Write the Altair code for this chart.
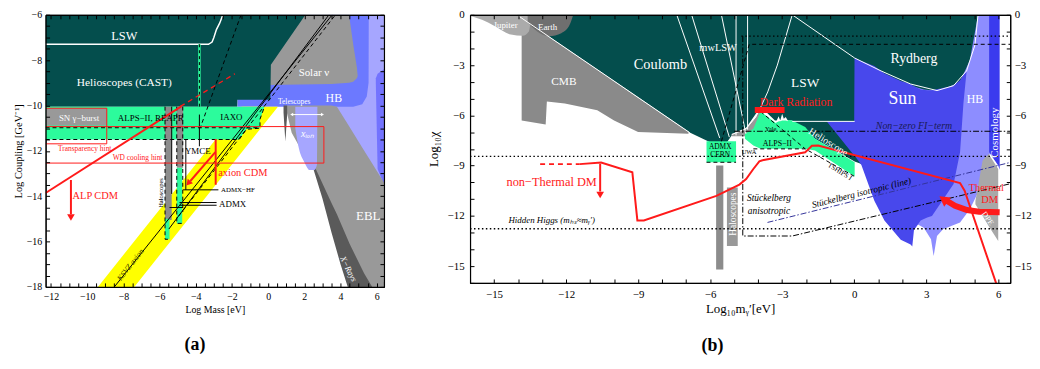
import altair as alt
import pandas as pd

FONT = "Liberation Serif"

TEAL = "#044E4D"; GREEN = "#2CFB9C"; GRAY = "#999999"; DGRAY = "#5A5A5A"
YELLOW = "#FFFF00"; RED = "#FF1A1A"; LAV = "#A6A6FF"; HBA = "#6C79FF"; STRIP = "#7373FF"
SUN = "#4848EC"; HBB = "#8D8DFF"; COSMO = "#3B3BEE"; CMBC = "#8A8A8A"; JUP = "#ABABAB"
EARTH = "#6F6F6F"; NAVY = "#1B1B55"; OLIVE = "#3A3A00"; HALO = "#8C8C8C"

# ======================= panel (a) : axion / ALP =======================
A_XDOM = [-12.3, 6.4]
A_YDOM = [-18.0, -6.0]

A_LAV_X = [3.5, 5.5, 6.4]; A_LAV_TOP = [-6.0, -6.0, -6.0]; A_LAV_BOT = [-13.0, -13.0, -13.4]
A_STRIP_X = [5.95, 6.05, 6.4]; A_STRIP_TOP = [-8.8, -8.6, -8.4]; A_STRIP_BOT = [-9.0, -12.8, -13.5]
A_HB_X = [-1.7, 0.1, 0.12, 4.7, 5.2, 5.45, 5.55, 5.56]
A_HB_TOP = [-9.7, -9.7, -6.0, -6.0, -6.0, -6.0, -6.0, -6.0]
A_HB_BOT = [-10.05, -10.05, -10.05, -10.05, -9.95, -9.6, -9.0, -6.0]
A_SOL_X = [0.0, 3.5, 4.47, 4.7, 4.9, 4.95]
A_SOL_TOP = [-6.0, -6.0, -6.0, -7.3, -8.3, -8.7]
A_SOL_BOT = [-9.1, -9.05, -9.0, -8.95, -8.8, -8.7]
A_XR_X = [2.5, 3.0, 3.5, 4.0, 4.4, 5.0, 5.75, 6.4]
A_XR_TOP = [-12.2, -12.8, -13.8, -14.8, -15.4, -16.3, -17.6, -17.8]
A_XR_BOT = [-12.8, -14.1, -15.6, -17.0, -18.0, -18.0, -18.0, -18.0]
A_EBL_X = [1.0, 1.3, 2.0, 2.6, 3.5, 3.8, 4.5, 5.3, 5.75, 6.4]
A_EBL_TOP = [-10.0, -10.0, -10.0, -10.0, -10.0, -10.05, -10.95, -11.98, -12.56, -13.4]
A_EBL_BOT = [-10.2, -11.2, -12.2, -12.75, -14.3, -14.8, -16.1, -17.4, -18.0, -18.0]
A_TEL_X = [0.85, 0.95, 1.05]; A_TEL_TOP = [-10.0, -10.0, -10.0]; A_TEL_BOT = [-10.3, -11.6, -10.4]
A_TEAL_X = [-12.3, -1.71, -1.7, 0.1, 0.12, 0.15, 2.06]
A_TEAL_TOP = [-6.0, -6.0, -6.0, -6.0, -6.0, -6.0, -6.0]
A_TEAL_BOT = [-10.05, -10.05, -9.75, -9.75, -9.75, -8.2, -6.0]
A_YEL_X = [-9.41, -7.4, -1.46, 0.53]
A_YEL_TOP = [-18.0, -15.99, -10.05, -10.05]
A_YEL_BOT = [-18.0, -18.0, -12.06, -10.07]
A_GRN_X = [-12.3, -1.6, -1.2, -0.46, -0.45, -0.2]
A_GRN_TOP = [-10.05, -10.05, -10.05, -10.05, -10.05, -10.05]
A_GRN_BOT = [-11.5, -11.5, -11.05, -11.0, -10.6, -10.05]
A_SN_X = [-12.3, -8.9]; A_SN_TOP = [-10.12, -10.12]; A_SN_BOT = [-10.88, -10.88]
A_H1_X = [-5.7, -5.33]; A_H1_TOP = [-10.05, -10.05]; A_H1_BOT = [-15.05, -15.05]
A_H1G_X = [-5.7, -5.45]; A_H1G_TOP = [-15.0, -15.0]; A_H1G_BOT = [-15.9, -15.9]
A_H2_X = [-5.05, -4.7]; A_H2_TOP = [-10.05, -10.05]; A_H2_BOT = [-12.75, -12.75]
A_H2G_X = [-5.05, -4.75]; A_H2G_TOP = [-12.75, -12.75]; A_H2G_BOT = [-15.2, -15.2]
A_XION_X = [1.5, 1.7, 2.0, 2.3, 2.55, 2.7, 2.72]
A_XION_TOP = [-10.05, -10.05, -10.05, -10.05, -10.05, -10.05, -10.05]
A_XION_BOT = [-11.0, -11.9, -12.5, -12.85, -12.85, -12.6, -10.05]

# lines (a)
A_LSW = ([-12.3, -3.3, -3.1, -3.0, -2.86, -2.68, -2.5], [-7.3, -7.3, -7.2, -7.0, -6.65, -6.37, -6.0])
A_GVERT = ([-3.8, -3.8], [-7.3, -10.05])
A_BDIAG = ([-1.5, -3.76], [-6.0, -11.0])
A_YMCE1 = ([-3.8, -3.8], [-10.4, -11.8])
A_RDASH = ([-4.85, -1.84], [-10.04, -8.6])
A_ALP = ([-12.3, -4.8], [-13.86, -10.04])
A_TRANS = ([-12.3, -8.92, -8.92, -12.3], [-10.12, -10.12, -11.69, -11.69])
A_WD = ([-12.3, 3.08, 3.08, -12.3], [-10.93, -10.93, -12.54, -12.54])
A_ACDM = ([-2.9, -2.9], [-11.48, -13.5])
A_AARROW = ([-2.92, -4.3], [-12.06, -13.33])
A_ALPARROW = ([-10.9, -10.9], [-13.29, -14.8])
A_K1 = ([-8.5, 3.54], [-18.0, -6.0])
A_K2 = ([-5.49, 3.36], [-15.45, -6.0])
A_K3 = ([-4.94, 3.72], [-14.87, -6.0])
A_ADMXHF = ([-4.7, -2.75], [-13.72, -13.72])
A_ADMX1 = ([-4.9, -2.85], [-14.28, -14.28])
A_ADMX2 = ([-4.9, -2.85], [-14.4, -14.4])
A_ADMX3 = ([-5.45, -4.7], [-14.5, -14.5])
A_YMCE2 = ([-4.55, -4.55], [-11.5, -13.72])
A_HSOLID = ([-5.33, -5.33], [-10.05, -13.9])
A_GB1 = ([-12.3, -1.6, -1.2, -0.45, -0.45, -0.2], [-11.5, -11.5, -11.05, -11.0, -10.6, -10.05])
A_GB2 = ([-12.3, -0.45], [-10.98, -10.98])
A_HD1 = ([-5.7, -5.7, -5.45], [-10.05, -15.9, -15.9])
A_HD2 = ([-5.05, -5.05, -4.75], [-10.05, -15.2, -15.2])
A_HD3 = ([-4.72, -4.72], [-10.05, -14.7])
A_TELE = ([1.3, 3.0], [-10.4, -10.4])

A_TXT_WHITE = [("LSW", -7.95, -6.94, 12.5), ("Helioscopes (CAST)", -7.95, -9.0, 11.5),
               ("SN γ−burst", -10.45, -10.55, 9), ("Solar ν", 2.53, -8.57, 11),
               ("HB", 3.63, -9.68, 12), ("Telescopes", 1.44, -9.85, 7.5), ("EBL", 5.53, -14.87, 13)]
A_TXT_XION = [("xᵢₒₙ", 2.17, -11.26, 10)]
A_TXT_XRAY = [("X−Rays", 4.45, -17.2, 8.5)]
A_TXT_BLACK = [("ALPS−II, REAPR", -6.49, -10.57, 9), ("IAXO", -2.03, -10.52, 9), ("YMCE", -3.89, -12.03, 9)]
A_TXT_BLACK_L = [("ADMX−HF", -2.61, -13.72, 7), ("ADMX", -2.71, -14.33, 9)]
A_TXT_RED = [("Transparency hint", -10.14, -11.94, 7.5), ("WD cooling hint", -7.22, -12.32, 7.5)]
A_TXT_RED_L = [("axion CDM", -2.76, -12.97, 10.5), ("ALP CDM", -10.81, -13.98, 10.5)]
A_TXT_HALO = [("Haloscopes", -5.94, -13.86, 6.5)]
A_TXT_KSVZ = [("KSVZ axion", -7.59, -17.04, 8)]

# ======================= panel (b) : hidden photon =======================
B_XDOM = [-16.0, 6.5]
B_YDOM = [-16.0, 0.0]

B_TEAL_X = [-14.05, -6.85, -6.0, -5.3, -5.05, -4.5, -4.03, -3.89, -3.3, -2.6, -1.63, 0.02, 0.3, 4.8, 5.16]
B_TEAL_TOP = [0.0] * 15
B_TEAL_BOT = [0.0, -7.03, -7.6, -7.6, -7.1, -6.74, -5.77, -5.5, -6.3, -6.3, -7.4, -8.75, -8.9, -6.0, 0.0]
B_CMB_X = [-13.85, -12.85, -12.8, -12.05, -10.7, -10.0, -9.0, -6.9]
B_CMB_TOP = [-0.2, -1.18, -1.23, -1.96, -3.28, -3.97, -4.95, -7.0]
B_CMB_BOT = [-6.3, -6.55, -5.18, -5.3, -5.7, -6.3, -7.0, -7.1]
B_JUP_X = [-16.0, -15.5, -15.0, -14.3, -13.8, -13.55, -13.45]
B_JUP_TOP = [0.0] * 7
B_JUP_BOT = [-0.05, -0.3, -0.65, -1.18, -1.25, -1.0, 0.0]
B_EARTH_X = [-13.6, -13.2, -12.7, -12.2, -11.85, -11.7]
B_EARTH_TOP = [0.0] * 6
B_EARTH_BOT = [-0.45, -1.0, -1.28, -1.1, -0.6, 0.0]
B_BOWL_X = [-5.1, -4.5, -4.1, -3.9]
B_BOWL_TOP = [-7.1, -6.8, -6.1, -5.6]
B_BOWL_BOT = [-7.25, -7.25, -7.25, -7.25]
B_HB_X = [2.5, 2.9, 3.2, 3.31, 3.45, 3.7, 4.41, 4.82, 5.16, 5.4, 5.65]
B_HB_TOP = [-4.3, -4.45, -4.5, -4.5, -4.5, -4.45, -4.0, -2.7, 0.0, 0.0, 0.0]
B_HB_BOT = [-12.4, -12.7, -13.4, -14.4, -13.2, -12.8, -12.4, -11.6, -10.6, -9.0, -8.3]
B_SUN_X = [-1.14, 0.0, 0.015, 0.3, 0.84, 1.26, 1.94, 2.35, 2.42, 2.49, 2.77, 3.04, 3.24, 4.14, 4.41, 4.55, 4.68]
B_SUN_TOP = [-6.36, -6.36, -2.58, -2.75, -3.05, -3.5, -3.95, -4.13, -4.2, -4.25, -4.45, -4.5, -4.5, -4.23, -3.9, -3.6, -3.35]
B_SUN_BOT = [-6.36, -8.39, -8.4, -8.97, -11.1, -12.27, -13.43, -13.7, -13.82, -12.85, -12.27, -12.1, -12.0, -10.1, -8.2, -5.3, -3.4]
B_DPE_X = [5.05, 5.35, 5.6, 6.0]
B_DPE_TOP = [-11.1, -8.7, -8.3, -9.2]
B_DPE_BOT = [-11.3, -12.0, -12.6, -13.5]
B_COSMO_X = [5.62, 6.0, 6.06]
B_COSMO_TOP = [0.0, 0.0, 0.0]
B_COSMO_BOT = [-8.2, -9.0, -9.25]
B_GRN_X = [-4.55, -4.2, -3.9, -3.27, -3.15, -3.1, -3.0, -2.9, -2.58, -2.04, -1.63, 0.02]
B_GRN_TOP = [-7.1, -6.8, -5.77, -6.45, -6.35, -6.3, -6.25, -6.25, -6.3, -6.7, -7.4, -8.8]
B_GRN_BOT = [-7.4, -7.8, -8.0, -8.0, -8.0, -8.0, -8.0, -8.0, -8.0, -8.0, -8.1, -9.65]
B_SPK_X = [-3.25, -3.15, -3.08, -3.0, -2.93, -2.85, -2.75]
B_SPK_TOP = [-6.4, -6.05, -6.3, -5.9, -6.2, -6.1, -6.35]
B_SPK_BOT = [-6.4, -6.35, -6.35, -6.3, -6.3, -6.3, -6.35]
B_CERN_X = [-6.15, -4.92]; B_CERN_TOP = [-7.55, -7.55]; B_CERN_BOT = [-8.8, -8.8]
B_HAL1_X = [-5.75, -5.45]; B_HAL1_TOP = [-9.0, -9.0]; B_HAL1_BOT = [-15.2, -15.2]
B_HAL2_X = [-5.3, -4.85]; B_HAL2_TOP = [-10.3, -10.3]; B_HAL2_BOT = [-13.8, -13.8]

# lines (b)
B_COUL = ([-14.05, -6.85], [0.0, -7.03])
B_RYD = ([-2.58, 0.02, 1.12, 2.35, 3.45, 4.14, 4.68, 5.03, 5.16], [0.0, -2.58, -3.35, -4.13, -4.52, -4.23, -3.35, -1.8, 0.0])
B_BOX = ([-2.58, 0.02], [-6.36, -6.36])
B_W1 = ([-7.39, -5.6], [0.0, -7.35])
B_W2 = ([-6.77, -5.2], [0.0, -7.3])
B_W3 = ([-5.53, -4.51], [0.0, -7.1])
B_W4 = ([-4.92, -4.92], [0.0, -7.2])
B_W5 = ([-4.44, -4.44], [0.0, -6.85])
B_W6 = ([-2.58, -3.2, -3.6, -3.89], [0.0, -3.0, -4.6, -5.5])
B_W7 = ([-5.1, -4.5, -4.1, -3.89], [-7.15, -6.8, -6.1, -5.5])
B_DOT1 = ([-16.0, 6.5], [-8.45, -8.45])
B_DOT2 = ([-16.0, 6.5], [-12.77, -12.77])
B_DOT3 = ([-4.7, 6.5], [-1.27, -1.27])
B_DASH1 = ([-5.53, -4.37, 6.5], [-7.55, -1.76, -1.76])
B_STK = ([-4.64, -4.64, -2.58, 6.5], [-1.27, -13.2, -13.2, -10.08])
B_FI = ([-5.0, 6.5], [-6.95, -6.95])
B_ISO = ([-3.61, 6.5], [-12.39, -8.81])
B_ALPS1 = ([-4.2, -2.04, 0.02], [-8.0, -8.0, -9.65])
B_ALPS2 = ([-3.9, -2.04], [-5.77, -8.0])
B_CERNB = ([-6.15, -4.92], [-8.8, -8.8])
B_NT = ([-11.43, -10.54, -9.24, -9.03, -8.76, -5.74, -4.78, -4.5, -4.2, -3.95, -3.82, -2.04, -1.76, -1.5, 4.41, 4.6, 5.92],
        [-8.91, -8.81, -9.4, -12.27, -12.27, -10.81, -10.13, -9.8, -9.2, -8.75, -8.68, -8.2, -7.81, -7.8, -10.04, -10.5, -16.05])
B_NTD = ([-13.08, -11.43], [-8.91, -8.91])
B_NTA = ([-10.58, -10.58], [-8.9, -10.55])
B_DR = ([-4.14, -2.9], [-5.68, -5.68])
B_TH = ([3.85, 4.2, 4.7, 5.2, 6.06], [-11.1, -11.4, -11.65, -11.75, -11.78])

B_TXT_WHITE = [("Jupiter", -14.52, -0.64, 9), ("Earth", -12.77, -0.7, 9), ("Coulomb", -8.07, -2.97, 14.5),
               ("CMB", -12.09, -3.99, 11.5), ("mwLSW", -5.67, -2.0, 10.5), ("LSW", -2.04, -4.1, 13.5),
               ("Rydberg", 2.49, -2.65, 14), ("Sun", 2.01, -5.0, 18), ("HB", 5.03, -5.0, 12)]
B_TXT_WHITE_V = [("Cosmology", 5.85, -7.03, 11), ("Haloscopes", -5.05, -11.9, 9.5)]
B_TXT_HELIO = [("Helioscope", -1.08, -7.6, 10)]
B_TXT_DPE = [("DPE", 5.55, -12.17, 8)]
B_TXT_RED = [("Dark Radiation", -2.42, -5.19, 12), ("non−Thermal DM", -12.6, -10.0, 12.5),
             ("Thermal", 5.5, -10.33, 10.5), ("DM", 5.64, -11.07, 10.5)]
B_TXT_BLACK = [("ADMX", -5.58, -7.9, 7.5), ("CERN", -5.58, -8.39, 7.5), ("UWA", -4.38, -8.2, 6.5),
               ("Yale", -3.48, -6.84, 6.5), ("ALPS−II", -3.2, -7.71, 8)]
B_TXT_TSHIPS = [("TSHIPS I", -0.6, -9.36, 7)]
B_TXT_FI = [("Non−zero FI−term", 2.49, -6.61, 10)]
B_TXT_ITAL = [("Stückelberg", -3.55, -10.95, 9.5), ("anisotropic", -3.55, -11.69, 9.5),
              ("Hidden Higgs (mₕₛ≈mᵧ′)", -12.6, -12.23, 9)]
B_TXT_ISO = [("Stückelberg isotropic (line)", 0.3, -10.62, 9.5)]


def tick_values(lo, hi, step):
    n = int(round((hi - lo) / step))
    return [round(lo + k * step, 2) for k in range(n + 1)]


A_XT = tick_values(-12, 6, 0.5)
A_YT = tick_values(-18, -6, 0.5)
B_XT = tick_values(-16, 6, 1)
B_YT = tick_values(-16, 0, 1)
EVEN = "datum.value % 2 == 0 ? format(datum.value, 'd') : ''"
THREE = "datum.value % 3 == 0 ? format(datum.value, 'd') : ''"

A_W, A_H = 342, 275
B_W, B_H = 546, 271
TICK = 4


def axis(values, expr, title, lsize, tsize, lpad, tpad, span):
    # ticks are drawn inward as short grid dashes at both edges of the plot
    return alt.Axis(values=values, labelExpr=expr, title=title, ticks=False, labelPadding=lpad,
                    labelFontSize=lsize, titleFontSize=tsize, titlePadding=tpad,
                    grid=True, gridColor="black", gridOpacity=1, gridWidth=1,
                    gridDash=[TICK, span - 2 * TICK], zindex=1)


class Panel:
    def __init__(self, xdom, ydom, xaxis, yaxis):
        self.xdom = xdom
        self.ydom = ydom
        self.xaxis = xaxis
        self.yaxis = yaxis
        self.layers = []

    def sx(self):
        return alt.Scale(domain=self.xdom, nice=False, zero=False)

    def sy(self):
        return alt.Scale(domain=self.ydom, nice=False, zero=False)

    def enc(self):
        return dict(x=alt.X("x:Q", scale=self.sx(), axis=self.xaxis),
                    y=alt.Y("y:Q", scale=self.sy(), axis=self.yaxis))

    def area(self, xs, top, bot, color, interp="linear"):
        df = pd.DataFrame({"x": xs, "y": top, "y2": bot})
        self.layers.append(
            alt.Chart(df).mark_area(color=color, interpolate=interp, clip=True, opacity=1)
            .encode(y2=alt.Y2("y2:Q"), **self.enc()))

    def lines(self, polys, color, width=1.0, dash=None, cap="butt"):
        rows = []
        for g, (xs, ys) in enumerate(polys):
            for i, (x, y) in enumerate(zip(xs, ys)):
                rows.append({"g": g, "i": i, "x": x, "y": y})
        props = dict(color=color, strokeWidth=width, clip=True, strokeCap=cap)
        if dash:
            props["strokeDash"] = dash
        self.layers.append(
            alt.Chart(pd.DataFrame(rows)).mark_line(**props)
            .encode(detail="g:N", order="i:Q", **self.enc()))

    def heads(self, pts, shape, color, size, angle=0):
        df = pd.DataFrame(pts, columns=["x", "y"])
        self.layers.append(
            alt.Chart(df).mark_point(shape=shape, filled=True, color=color, size=size,
                                     angle=angle, opacity=1, strokeWidth=0)
            .encode(**self.enc()))

    def texts(self, items, color, angle=0, italic=False, align="center"):
        df = pd.DataFrame(items, columns=["t", "x", "y", "s"])
        props = dict(font=FONT, color=color, align=align, baseline="middle", angle=angle)
        if italic:
            props["fontStyle"] = "italic"
        self.layers.append(
            alt.Chart(df).mark_text(**props)
            .encode(text="t:N", size=alt.Size("s:Q", scale=None), **self.enc()))

    def build(self, w, h, fy_axis, label, dx):
        inner = alt.layer(*self.layers)
        fdf = pd.DataFrame({"x": self.xdom, "y": self.ydom})
        fx_axis = alt.Axis(orient="top", values=[self.xdom[0]], labels=False, ticks=False,
                           title=None, grid=False, zindex=1)
        frame = alt.Chart(fdf).mark_point(opacity=0).encode(
            x=alt.X("x:Q", scale=self.sx(), axis=fx_axis),
            y=alt.Y("y:Q", scale=self.sy(), axis=fy_axis))
        return (alt.layer(inner, frame)
                .resolve_scale(x="independent", y="independent")
                .properties(width=w, height=h,
                            title=alt.TitleParams(text=label, orient="bottom", fontSize=18,
                                                  fontWeight="bold", offset=22, anchor="middle",
                                                  font=FONT, dx=dx)))


AX_A_X = axis(A_XT, EVEN, "Log Mass [eV]", 10, 10, 5, 3, A_H)
AX_A_Y = axis(A_YT, EVEN, "Log Coupling [GeV⁻¹]", 10, 10.5, 4, 3, A_W)
AX_A_RIGHT = alt.Axis(orient="right", values=[A_YDOM[0]], labels=False, ticks=False, title=None,
                      grid=False, zindex=1)
AX_B_X = axis(B_XT, THREE, "Log₁₀mᵧ′[eV]", 11, 13, 6, 3, B_H)
AX_B_Y = axis(B_YT, THREE, "Log₁₀χ", 11, 13, 6, 7, B_W)
AX_B_RIGHT = alt.Axis(orient="right", values=B_YT, labelExpr=THREE, title=None, ticks=False,
                      labelPadding=4, labelFontSize=11, grid=False, zindex=1)

# ---------------- build panel (a) ----------------
pa = Panel(A_XDOM, A_YDOM, AX_A_X, AX_A_Y)
pa.area(A_LAV_X, A_LAV_TOP, A_LAV_BOT, LAV)
pa.area(A_STRIP_X, A_STRIP_TOP, A_STRIP_BOT, STRIP)
pa.area(A_HB_X, A_HB_TOP, A_HB_BOT, HBA)
pa.area(A_SOL_X, A_SOL_TOP, A_SOL_BOT, GRAY)
pa.area(A_XR_X, A_XR_TOP, A_XR_BOT, DGRAY)
pa.area(A_EBL_X, A_EBL_TOP, A_EBL_BOT, GRAY)
pa.area(A_TEL_X, A_TEL_TOP, A_TEL_BOT, DGRAY)
pa.area(A_TEAL_X, A_TEAL_TOP, A_TEAL_BOT, TEAL)
pa.area(A_YEL_X, A_YEL_TOP, A_YEL_BOT, YELLOW)
pa.area(A_GRN_X, A_GRN_TOP, A_GRN_BOT, GREEN)
pa.area(A_SN_X, A_SN_TOP, A_SN_BOT, GRAY)
pa.area(A_H1_X, A_H1_TOP, A_H1_BOT, HALO)
pa.area(A_H1G_X, A_H1G_TOP, A_H1G_BOT, GREEN)
pa.area(A_H2_X, A_H2_TOP, A_H2_BOT, HALO)
pa.area(A_H2G_X, A_H2G_TOP, A_H2G_BOT, GREEN)
pa.area(A_XION_X, A_XION_TOP, A_XION_BOT, LAV, "monotone")
pa.lines([A_LSW], "white", 1.5)
pa.lines([A_GVERT], GREEN, 2.5)
pa.lines([A_GVERT], "black", 1, [3, 3])
pa.lines([A_BDIAG, A_K3, A_GB1, A_GB2, A_HD1, A_HD2, A_HD3], "black", 1, [4, 3])
pa.lines([A_K1, A_K2, A_YMCE1, A_ADMXHF, A_ADMX1, A_ADMX2, A_ADMX3, A_YMCE2, A_HSOLID], "black", 1)
pa.lines([A_RDASH], RED, 1.3, [5, 4])
pa.lines([A_TRANS, A_WD], RED, 1)
pa.lines([A_ALP, A_ACDM, A_AARROW, A_ALPARROW], RED, 2)
pa.lines([A_TELE], "white", 1)
pa.heads([(-10.9, -14.94)], "triangle-down", RED, 60)
pa.heads([(-4.41, -13.43)], "triangle-down", RED, 50, 41)
pa.heads([(1.3, -10.4)], "triangle-left", "white", 12)
pa.heads([(3.0, -10.4)], "triangle-right", "white", 12)
pa.texts(A_TXT_WHITE, "white")
pa.texts(A_TXT_XION, "white", italic=True)
pa.texts(A_TXT_XRAY, "white", angle=63, italic=True)
pa.texts(A_TXT_BLACK, "black")
pa.texts(A_TXT_BLACK_L, "black", align="left")
pa.texts(A_TXT_RED, RED)
pa.texts(A_TXT_RED_L, RED, align="left")
pa.texts(A_TXT_HALO, "black", angle=270)
pa.texts(A_TXT_KSVZ, OLIVE, angle=308, italic=True)
panel_a = pa.build(A_W, A_H, AX_A_RIGHT, "(a)", -20)

# ---------------- build panel (b) ----------------
pb = Panel(B_XDOM, B_YDOM, AX_B_X, AX_B_Y)
pb.area(B_TEAL_X, B_TEAL_TOP, B_TEAL_BOT, TEAL)
pb.area(B_CMB_X, B_CMB_TOP, B_CMB_BOT, CMBC)
pb.area(B_JUP_X, B_JUP_TOP, B_JUP_BOT, JUP, "monotone")
pb.area(B_EARTH_X, B_EARTH_TOP, B_EARTH_BOT, EARTH, "monotone")
pb.area(B_BOWL_X, B_BOWL_TOP, B_BOWL_BOT, GRAY)
pb.area(B_HB_X, B_HB_TOP, B_HB_BOT, HBB)
pb.area(B_SUN_X, B_SUN_TOP, B_SUN_BOT, SUN)
pb.area(B_DPE_X, B_DPE_TOP, B_DPE_BOT, "#A8A8A8")
pb.area(B_COSMO_X, B_COSMO_TOP, B_COSMO_BOT, COSMO)
pb.area(B_GRN_X, B_GRN_TOP, B_GRN_BOT, GREEN)
pb.area(B_SPK_X, B_SPK_TOP, B_SPK_BOT, "white")
pb.area(B_CERN_X, B_CERN_TOP, B_CERN_BOT, GREEN)
pb.area(B_HAL1_X, B_HAL1_TOP, B_HAL1_BOT, HALO)
pb.area(B_HAL2_X, B_HAL2_TOP, B_HAL2_BOT, GRAY)
pb.lines([B_COUL, B_RYD, B_BOX, B_W1, B_W2, B_W3, B_W4, B_W5, B_W6, B_W7], "white", 1)
pb.lines([B_DOT1, B_DOT2, B_DOT3], "black", 1.4, [1.5, 2.5])
pb.lines([B_DASH1, B_ALPS1, B_ALPS2, B_CERNB], "black", 1, [4, 3])
pb.lines([B_STK, B_FI], "black", 1, [6, 2, 1.5, 2])
pb.lines([B_ISO], "#34349A", 1, [6, 2, 1.5, 2])
pb.lines([B_NTD], RED, 2, [5, 4])
pb.lines([B_NT, B_NTA], RED, 2)
pb.lines([B_DR], RED, 6)
pb.lines([B_TH], RED, 6)
pb.heads([(-10.58, -10.75)], "triangle-down", RED, 60)
pb.heads([(3.72, -11.0)], "triangle-left", RED, 140, 36)
pb.texts(B_TXT_WHITE, "white")
pb.texts(B_TXT_WHITE_V, "white", angle=270)
pb.texts(B_TXT_HELIO, "white", angle=32)
pb.texts(B_TXT_DPE, "white", angle=55)
pb.texts(B_TXT_RED, RED)
pb.texts(B_TXT_BLACK, "black")
pb.texts(B_TXT_TSHIPS, "black", angle=32)
pb.texts(B_TXT_FI, NAVY, italic=True)
pb.texts(B_TXT_ITAL, "black", italic=True)
pb.texts(B_TXT_ISO, "black", angle=346, italic=True)
panel_b = pb.build(B_W, B_H, AX_B_RIGHT, "(b)", -28)

chart = (alt.hconcat(panel_a, panel_b, spacing=39)
         .properties(padding={"left": 4, "right": 0, "top": -2, "bottom": 0})
         .configure_view(stroke="black", strokeWidth=1)
         .configure_axis(labelFont=FONT, titleFont=FONT, titleFontWeight="normal",
                         labelColor="black", titleColor="black",
                         domainColor="black", domainWidth=1.2,
                         labelFlush=False, labelOverlap=False)
         .configure_title(font=FONT, color="black"))

chart.save("out.html", embed_options={"renderer": "svg", "actions": False})
